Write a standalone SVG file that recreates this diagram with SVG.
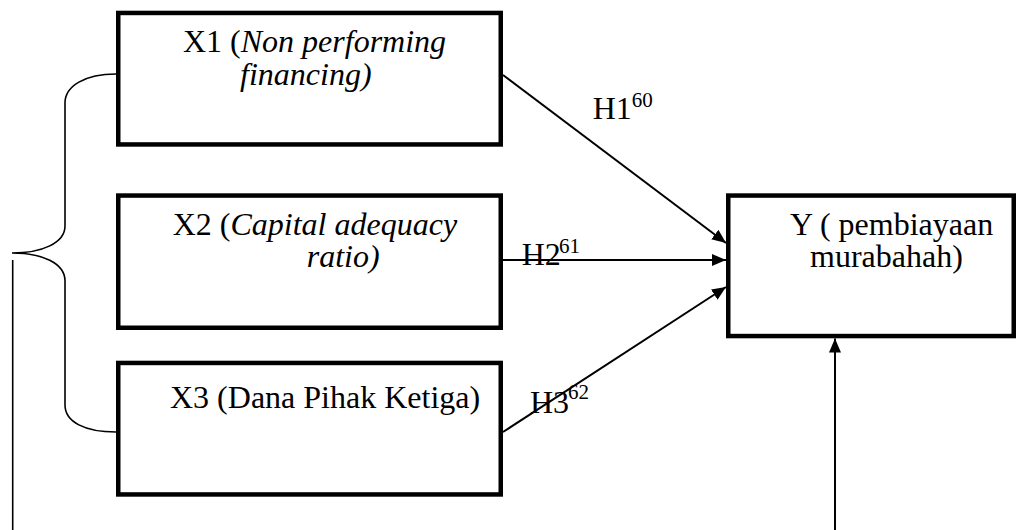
<svg xmlns="http://www.w3.org/2000/svg" width="1017" height="530" viewBox="0 0 1017 530">
<style>
.box{fill:#fff;stroke:#000;stroke-width:4.5}
.t{font-family:"Liberation Serif","Times New Roman",serif;font-size:32px;fill:#000}
.i{font-style:italic}
.sup{font-size:21px}
.c{fill:none;stroke:#000;stroke-width:2}
.br{fill:none;stroke:#000;stroke-width:1.6}
</style>
<defs>
<marker id="ah" viewBox="0 0 14 12" refX="14" refY="6" markerWidth="14" markerHeight="12" markerUnits="userSpaceOnUse" orient="auto">
<path d="M0,0 L14,6 L0,12 Z" fill="#000"/>
</marker>
</defs>
<g id="connectors">
<line class="c" x1="503" y1="75" x2="726" y2="243" marker-end="url(#ah)"/>
<line class="c" x1="503" y1="260" x2="726" y2="260" marker-end="url(#ah)"/>
<line class="c" x1="503" y1="432" x2="726" y2="287" marker-end="url(#ah)"/>
<line class="c" x1="835" y1="530" x2="835" y2="338.5" marker-end="url(#ah)"/>
<path class="br" d="M116,74 C85,74 65,86 65,103 L65,226 C65,243 42,253 12,253 C42,253 65,263 65,281 L65,405 C65,422 85,432 116,432"/>
<line class="br" x1="12.7" y1="260" x2="12.7" y2="530"/>
</g>
<g id="X1">
<rect class="box" x="118.25" y="12.95" width="382.5" height="131.5"/>
<text class="t" x="183" y="52">X1 (<tspan class="i">Non performing</tspan></text>
<text class="t i" x="240" y="85">financing)</text>
</g>
<g id="X2">
<rect class="box" x="118.25" y="195.55" width="382.5" height="132.2"/>
<text class="t" x="172.7" y="235">X2 (<tspan class="i">Capital adequacy</tspan></text>
<text class="t i" x="306.7" y="267">ratio)</text>
</g>
<g id="X3">
<rect class="box" x="118.25" y="362.95" width="382.5" height="131.5"/>
<text class="t" x="170" y="408">X3 (Dana Pihak Ketiga)</text>
</g>
<g id="Y">
<rect class="box" x="728.25" y="195.55" width="285.5" height="140.5"/>
<text class="t" x="790" y="235">Y ( pembiayaan</text>
<text class="t" x="810" y="267">murabahah)</text>
</g>
<g id="labels">
<text class="t" x="592.7" y="119.3">H1</text>
<text class="t sup" x="631.7" y="107">60</text>
<text class="t" x="521.7" y="265">H2</text>
<text class="t sup" x="559" y="253">61</text>
<text class="t" x="530" y="412.7">H3</text>
<text class="t sup" x="568" y="399">62</text>
</g>
</svg>
